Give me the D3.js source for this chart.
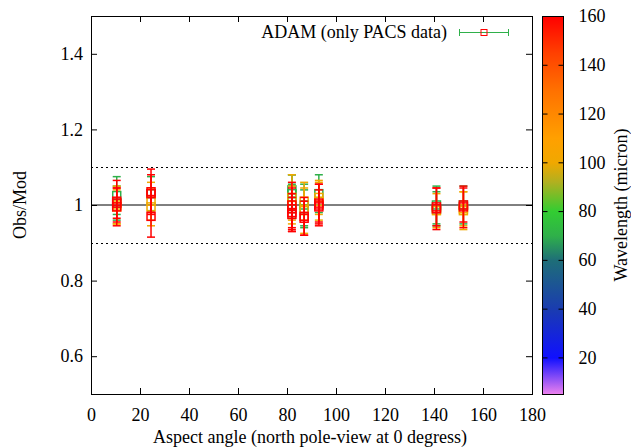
<!DOCTYPE html>
<html>
<head>
<meta charset="utf-8">
<script src="https://cdn.jsdelivr.net/npm/d3@7"></script>
<style>
  body { margin: 0; background: #fff; }
  svg text { font-family: "Liberation Serif", "DejaVu Serif", serif; font-size: 18px; fill: #000; }
</style>
</head>
<body>
<svg id="chart" width="631" height="448"></svg>
<script>
"use strict";

// observations: aspect angle, obs/mod ratio, error, wavelength (micron)
var angles = [
  10.5, 10.5, 10.5, 10.5, 10.5, 10.5, 10.5,
  24.5, 24.5, 24.5, 24.5, 24.5, 24.5,
  82, 82, 82, 82, 82, 82, 82, 82, 82,
  87, 87, 87, 87, 87, 87,
  93, 93, 93, 93, 93, 93,
  141, 141, 141, 141, 141,
  152, 152, 152, 152, 152
];
var ratios = [
  1.025, 1.005, 1.0, 0.995, 1.01, 0.995, 1.005,
  1.03, 1.01, 0.995, 1.035, 0.97, 1.03,
  1.03, 1.01, 1.04, 1.02, 1.0, 0.99, 0.98, 1.0, 0.975,
  1.0, 0.99, 0.985, 1.01, 0.97, 0.965,
  1.03, 1.01, 1.02, 1.005, 0.995, 1.0,
  1.0, 0.99, 0.985, 0.995, 0.99,
  1.0, 0.985, 0.99, 0.995, 1.0
];
var errors = [
  0.05, 0.045, 0.05, 0.045, 0.055, 0.05, 0.04,
  0.045, 0.05, 0.05, 0.06, 0.055, 0.05,
  0.05, 0.045, 0.04, 0.06, 0.05, 0.055, 0.05, 0.06, 0.045,
  0.055, 0.05, 0.06, 0.05, 0.05, 0.045,
  0.05, 0.05, 0.045, 0.05, 0.045, 0.055,
  0.05, 0.045, 0.045, 0.05, 0.055,
  0.05, 0.05, 0.045, 0.055, 0.045
];
var waves = [
  70, 70, 100, 100, 160, 160, 160,
  70, 100, 100, 160, 160, 160,
  70, 70, 70, 100, 100, 160, 160, 160, 160,
  70, 70, 100, 100, 160, 160,
  70, 100, 100, 160, 160, 160,
  70, 70, 100, 160, 160,
  70, 100, 100, 160, 160
];

var xTicks = [0, 20, 40, 60, 80, 100, 120, 140, 160, 180];
var yTicks = [0.6, 0.8, 1, 1.2, 1.4];
var cbTicks = [20, 40, 60, 80, 100, 120, 140, 160];
var refLines = [0.9, 1.1];

// palette stops (wavelength -> colour)
var paletteDomain = [5, 20, 40, 60, 70, 80, 92, 100, 110, 130, 145, 160];
var paletteColors = ['#ee82ee', '#1010ff', '#1a3cb0', '#1e6e78', '#2fb04a', '#32cd32',
  '#b0b020', '#f0a800', '#ffa000', '#ff7000', '#ff4000', '#ff0000'];

var FONT = '"Liberation Serif", "DejaVu Serif", serif';

var svg = d3.select('#chart');
var m = { left: 91, right: 532, top: 16, bottom: 394 };

var x = d3.scaleLinear().domain([0, 180]).range([m.left, m.right]);
var y = d3.scaleLinear().domain([0.5, 1.5]).range([m.bottom, m.top]);
var color = d3.scaleLinear().domain(paletteDomain).range(paletteColors);

var data = angles.map((a, i) => ({ a: a, r: ratios[i], e: errors[i], w: waves[i] }));

// reference lines
svg.append('line')
  .attr('x1', m.left).attr('x2', m.right)
  .attr('y1', y(1)).attr('y2', y(1))
  .attr('stroke', '#000').attr('stroke-width', 1);
svg.selectAll('line.ref')
  .data(refLines)
  .enter()
  .append('line')
  .attr('class', 'ref')
  .attr('x1', m.left).attr('x2', m.right)
  .attr('y1', d => Math.round(y(d)) + 0.5).attr('y2', d => Math.round(y(d)) + 0.5)
  .attr('stroke', '#000').attr('stroke-width', 1)
  .attr('stroke-dasharray', '2,3');

// error bars + points
var g = svg.selectAll('g.pt')
  .data(data)
  .enter()
  .append('g')
  .attr('class', 'pt')
  .attr('transform', d => 'translate(' + x(d.a) + ',0)');

g.append('line')
  .attr('y1', d => y(d.r - d.e)).attr('y2', d => y(d.r + d.e))
  .attr('stroke', d => color(d.w)).attr('stroke-width', 1.5);
g.append('line')
  .attr('x1', -4).attr('x2', 4)
  .attr('y1', d => y(d.r + d.e)).attr('y2', d => y(d.r + d.e))
  .attr('stroke', d => color(d.w)).attr('stroke-width', 1.5);
g.append('line')
  .attr('x1', -4).attr('x2', 4)
  .attr('y1', d => y(d.r - d.e)).attr('y2', d => y(d.r - d.e))
  .attr('stroke', d => color(d.w)).attr('stroke-width', 1.5);
g.append('rect')
  .attr('x', -4).attr('width', 8)
  .attr('y', d => y(d.r) - 4).attr('height', 8)
  .attr('fill', 'none')
  .attr('stroke', d => color(d.w)).attr('stroke-width', 1.5);

// axes (ticks inward, mirrored)
function styleAxis(a) {
  a.select('.domain').remove();
  a.attr('font-family', FONT).attr('font-size', 18);
  a.selectAll('text').attr('fill', '#000');
}
var fmtY = d => d === 1 ? '1' : d3.format('.1f')(d);
var axB = svg.append('g').attr('transform', 'translate(0,' + m.bottom + ')')
  .call(d3.axisBottom(x).tickValues(xTicks).tickSize(-6).tickPadding(14));
var axT = svg.append('g').attr('transform', 'translate(0,' + m.top + ')')
  .call(d3.axisTop(x).tickValues(xTicks).tickSize(-6).tickFormat(''));
var axL = svg.append('g').attr('transform', 'translate(' + m.left + ',0)')
  .call(d3.axisLeft(y).tickValues(yTicks).tickSize(-6).tickPadding(8).tickFormat(fmtY));
var axR = svg.append('g').attr('transform', 'translate(' + m.right + ',0)')
  .call(d3.axisRight(y).tickValues(yTicks).tickSize(-6).tickFormat(''));
[axB, axT, axL, axR].forEach(styleAxis);

svg.append('rect')
  .attr('x', m.left + 0.5).attr('y', m.top + 0.5)
  .attr('width', m.right - m.left).attr('height', m.bottom - m.top)
  .attr('fill', 'none').attr('stroke', '#000').attr('stroke-width', 1);

// axis labels
svg.append('text')
  .attr('x', 310).attr('y', 443)
  .attr('text-anchor', 'middle')
  .text('Aspect angle (north pole-view at 0 degress)');
svg.append('text')
  .attr('transform', 'translate(26,' + y(1) + ') rotate(-90)')
  .attr('text-anchor', 'middle')
  .text('Obs/Mod');

// legend
svg.append('text')
  .attr('x', 447).attr('y', 38)
  .attr('text-anchor', 'end')
  .text('ADAM (only PACS data)');
var lg = svg.append('g').attr('transform', 'translate(0,32.5)');
lg.append('line').attr('x1', 459.5).attr('x2', 508.5).attr('y1', 0).attr('y2', 0)
  .attr('stroke', color(70)).attr('stroke-width', 1);
[459.5, 508.5].forEach(cx => {
  lg.append('line').attr('x1', cx).attr('x2', cx).attr('y1', -3.5).attr('y2', 3.5)
    .attr('stroke', color(70)).attr('stroke-width', 1);
});
lg.append('rect').attr('x', 481).attr('y', -3).attr('width', 6).attr('height', 6)
  .attr('fill', 'none').attr('stroke', '#ff0000').attr('stroke-width', 1);

// colour bar
var cb = { left: 542, right: 563 };
var cbY = d3.scaleLinear().domain([5, 160]).range([m.bottom, m.top]);
var grad = svg.append('defs').append('linearGradient')
  .attr('id', 'cbGrad')
  .attr('x1', 0).attr('x2', 0).attr('y1', 1).attr('y2', 0);
grad.selectAll('stop')
  .data(paletteDomain)
  .enter()
  .append('stop')
  .attr('offset', d => (d - 5) / 155)
  .attr('stop-color', d => color(d));
svg.append('rect')
  .attr('x', cb.left + 0.5).attr('y', m.top + 0.5)
  .attr('width', cb.right - cb.left).attr('height', m.bottom - m.top)
  .attr('fill', 'url(#cbGrad)').attr('stroke', '#000').attr('stroke-width', 1);
var cbL = svg.append('g').attr('transform', 'translate(' + (cb.left + 0.5) + ',0)')
  .call(d3.axisLeft(cbY).tickValues(cbTicks).tickSize(-5).tickFormat(''));
var cbR = svg.append('g').attr('transform', 'translate(' + (cb.right + 0.5) + ',0)')
  .call(d3.axisRight(cbY).tickValues(cbTicks).tickSize(-5).tickPadding(15));
[cbL, cbR].forEach(styleAxis);
svg.append('text')
  .attr('transform', 'translate(627,205) rotate(-90)')
  .attr('text-anchor', 'middle')
  .text('Wavelength (micron)');
</script>
</body>
</html>
